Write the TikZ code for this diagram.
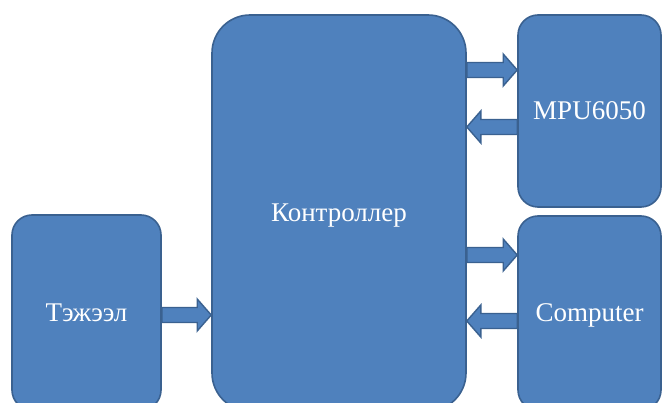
\documentclass[tikz,border=0pt]{standalone}
\usepackage{fontspec}
\setmainfont{Liberation Serif}
\usetikzlibrary{calc}
\definecolor{boxfill}{HTML}{4F81BD}
\definecolor{boxline}{HTML}{3A6190}
\tikzset{
  blk/.style={draw=boxline, fill=boxfill, line width=1.6pt, text=white,
    font=\fontsize{27}{30}\selectfont, inner sep=0pt, text depth=0pt},
  arrsty/.style={draw=boxline, fill=boxfill, line width=1.4pt, line join=miter}
}
\newcommand\blockarr[2]{%
  \path[arrsty] let \p1=(#1), \p2=(#2), \n1={ifthenelse(\x2>\x1,1,-1)} in
    (\x1,\y1+7.5pt) -- (\x2-\n1*14pt,\y1+7.5pt) -- (\x2-\n1*14pt,\y1+16pt) --
    (\x2,\y1) -- (\x2-\n1*14pt,\y1-16pt) -- (\x2-\n1*14pt,\y1-7.5pt) --
    (\x1,\y1-7.5pt) -- cycle;}
\begin{document}
\begin{tikzpicture}[x=1pt,y=-1pt]
\useasboundingbox (0,0) rectangle (662,403);
\clip (0,0) rectangle (662,403);
\node[blk, rounded corners=20pt, minimum width=149pt, minimum height=195pt] (pw) at (86.5,312.5) {Тэжээл};
\node[blk, rounded corners=38pt, minimum width=254pt, minimum height=396pt] (ctrl) at (339,213) {Контроллер};
\node[blk, rounded corners=20pt, minimum width=143pt, minimum height=192pt] (mpu) at (589.5,111) {MPU6050};
\node[blk, rounded corners=20pt, minimum width=143pt, minimum height=194pt] (comp) at (589.5,313) {Computer};
\blockarr{pw.east |- 0,315}{ctrl.west |- 0,315}
\blockarr{ctrl.east |- 0,70}{mpu.west |- 0,70}
\blockarr{mpu.west |- 0,127}{ctrl.east |- 0,127}
\blockarr{ctrl.east |- 0,255}{comp.west |- 0,255}
\blockarr{comp.west |- 0,321}{ctrl.east |- 0,321}
\end{tikzpicture}
\end{document}
